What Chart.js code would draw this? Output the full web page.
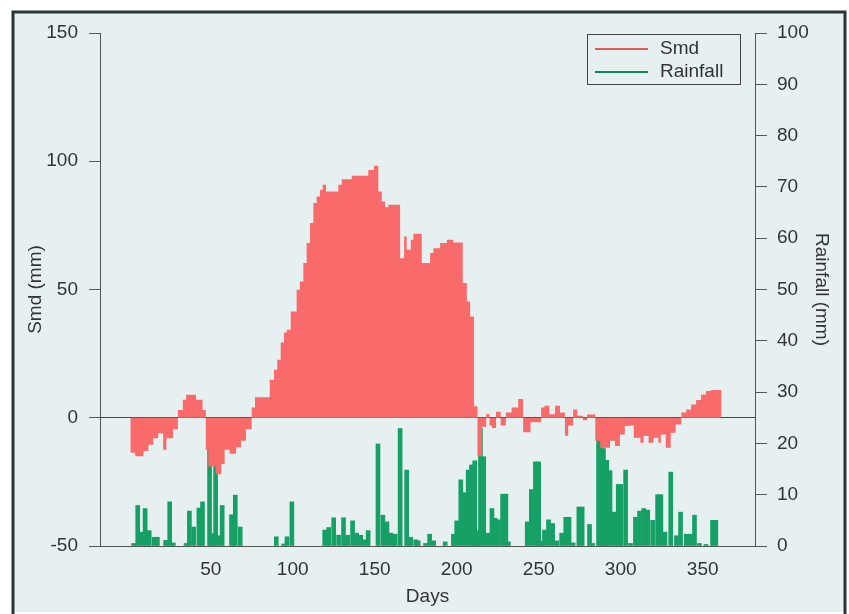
<!DOCTYPE html>
<html>
<head>
<meta charset="utf-8">
<title>Smd and Rainfall</title>
<script src="https://cdn.jsdelivr.net/npm/chart.js@4.4.0/dist/chart.umd.min.js"></script>
<style>
  body { margin: 0; background: #ffffff; }
  canvas { display: block; }
</style>
</head>
<body>
<canvas id="myChart" width="849" height="614"></canvas>
<script>
// Smd (mm): day where each step starts, and the value held until the next step
var smdDays = [1, 4, 9, 12, 15, 18, 21, 23, 27, 30, 33, 35, 41, 45, 47, 48.5, 53, 56.5, 58.5, 61.5,
    65.5, 68.5, 71.5, 75, 77, 86, 88.6, 90.6, 92.7, 94.7, 96.3, 98.8, 102.4, 104.4, 106.5, 108.5,
    110.5, 112.6, 114.6, 116.6, 118.3, 120.3, 127.8, 129.9, 136, 146.1, 149.6, 152.2, 154.3, 156.3,
    158.3, 165.5, 167.9, 169.5, 172, 173.6, 178.7, 183.8, 185.8, 189.9, 194, 198, 203.7, 206.2,
    208.2, 210.6, 212.7, 215.5, 218, 220, 221.5, 224, 226.8, 230, 233.5, 237.5, 240.5, 245, 251.5,
    253.5, 256.5, 260, 263, 266, 268, 271, 273.5, 277, 279.5, 284.5, 287.5, 293.5, 296.5, 299.5,
    302.5, 305.5, 308, 312, 314, 317, 320, 323, 324.5, 327.5, 330.5, 333.5, 337, 340, 343, 346,
    349, 352, 355, 358, 361.5];
var smdValues = [-12.5, -13.6, -15, -13, -10.5, -8, -6, -12.5, -8, -4.5, 3, 7, 9, 7, 3, -12.5, -19, -22, -18, -12.5,
    -14, -11.5, -9, -4.5, 4, 8, 14.8, 18.7, 22.6, 29.3, 33.2, 34.3, 41.4, 49.9, 53.1, 60.3,
    68.1, 75.9, 83.7, 86.3, 88.9, 90.8, 88.2, 90.8, 93, 94.3, 96.6, 98.2, 88.2, 84.3,
    82.1, 83, 62.2, 70.7, 65.5, 69.4, 71.7, 60.3, 64.2, 66.1, 68.1, 69.4, 68.3, 52.5,
    45.3, 39.5, 4.5, -15, -3.5, 1.5, -3, -4, 2.3, -3, 2, 4, 7.3, -5.7, -1.8,
    4, 4.7, 1.4, 4.7, 2, -7, -3, 3.2, 0.8, -1, 1.3, -9, -11.7, -9, -11,
    -6.5, -3.2, -3, -7.8, -9.7, -7.1, -9.7, -7.8, -9.7, -6.5, -11.7, -5.8, -2.6, 2, 3.2, 5.2,
    6.9, 9.1, 10.4, 10.8, 10.8];

// Rainfall (mm) per rain day
var rainDays = [3, 5.5, 7.8, 10, 12.5, 15.5, 17.5, 22.5, 25, 27.2, 35, 37, 39.6, 42.8, 45, 49.3, 51, 53, 55, 57,
    62.7, 65, 68, 90, 94.5, 96.5, 99.5, 119.5, 122, 125, 128, 131, 133.5, 136.5, 139, 141.5, 143.5, 146,
    152, 155, 157.5, 160, 162.5, 165.5, 169.5, 172, 175, 176.5, 181, 183.5, 186, 193, 198, 200, 202.5,
    205, 207, 209, 211, 213, 214.5, 216.5, 219, 221.5, 223.5, 225.5, 228, 230, 231.5, 243, 245.5, 248,
    250, 252, 253.5, 256, 258.5, 261, 264, 266.5, 268.5, 271, 274.5, 276.5, 281, 283, 286.5, 288,
    289.5, 291.5, 293.5, 296, 298.5, 300, 303, 306, 309, 311.5, 314, 316.5, 319.5, 322.5, 324.5, 327,
    330.5, 334, 336.5, 340, 342.5, 345, 348, 352, 356, 358];
var rainValues = [0.5, 7.9, 2.7, 7.3, 3, 1.7, 1.7, 1.1, 8.6, 0.6, 0.5, 6.8, 3.7, 7.4, 8.6, 20, 2.4, 15.6, 2, 7.9,
    6.1, 9.9, 3.7, 1.8, 0.4, 1.8, 8.6, 3.1, 3.6, 5.5, 2.1, 5.5, 2.1, 4.9, 2.5, 2.1, 1.2, 3,
    19.9, 6, 4.7, 2.5, 2.3, 22.9, 14.8, 1.7, 1.2, 1.0, 0.5, 2.3, 1.0, 0.8, 2.3, 4.9, 12.9,
    10.4, 14.8, 15.8, 16.6, 3, 22.9, 17.4, 2.5, 7.3, 5.4, 5.1, 10.1, 10.1, 0.8, 4.7, 11, 16.4,
    16.4, 1, 3.1, 5.1, 4.4, 1, 2.5, 5.6, 5.6, 0.6, 7.6, 7.6, 4.2, 0.5, 22.9, 22.9,
    19, 16.7, 14.7, 6.6, 12, 12, 14.8, 0.5, 5.6, 6.8, 7.3, 7, 5, 10, 10, 2.7,
    14.4, 2, 6.6, 2.3, 2.3, 6, 0.5, 0.3, 5, 5];

// tick labels of the day axis
var dayTicks = [50, 100, 150, 200, 250, 300, 350];

var smdColor = '#f96a6a';
var rainColor = '#16a066';
var textColor = '#333333';
var axisColor = '#555555';
var fontFamily = "'Liberation Sans', Arial, sans-serif";

var smdData = smdDays.map(function (d, i) {
    return { x: d, y: smdValues[i] };
});
var rainData = rainDays.map(function (d, i) {
    return { x: d, y: rainValues[i] };
});

// scanned page frame and background
var framePlugin = {
    id: 'frame',
    beforeDraw: function (chart) {
        var c = chart.ctx;
        c.save();
        c.fillStyle = '#ffffff';
        c.fillRect(0, 0, chart.width, chart.height);
        c.fillStyle = '#e6f0f0';
        c.fillRect(13, 12, 832, 600);
        c.strokeStyle = '#2b3535';
        c.lineWidth = 3;
        c.beginPath();
        c.moveTo(13, 614);
        c.lineTo(13, 12);
        c.lineTo(845, 12);
        c.lineTo(845, 614);
        c.stroke();
        c.restore();
    }
};

// legend box in the top right corner of the plot
var legendPlugin = {
    id: 'boxLegend',
    afterDraw: function (chart) {
        var c = chart.ctx;
        var items = chart.data.datasets;
        c.save();
        c.strokeStyle = '#444444';
        c.lineWidth = 1;
        c.strokeRect(587.5, 34.5, 153, 50);
        c.font = '19px ' + fontFamily;
        c.textBaseline = 'middle';
        c.fillStyle = textColor;
        items.forEach(function (ds, i) {
            var y = 49 + i * 23;
            c.strokeStyle = ds.legendColor;
            c.lineWidth = 2;
            c.beginPath();
            c.moveTo(595, y);
            c.lineTo(648, y);
            c.stroke();
            c.fillText(ds.label, 660, y);
        });
        c.restore();
    }
};

var ctx = document.getElementById('myChart').getContext('2d');
var myChart = new Chart(ctx, {
    type: 'bar',
    data: {
        datasets: [{
            type: 'line',
            label: 'Smd',
            data: smdData,
            xAxisID: 'x',
            yAxisID: 'y',
            stepped: 'after',
            fill: 'origin',
            backgroundColor: smdColor,
            borderWidth: 0,
            borderColor: smdColor,
            pointRadius: 0,
            legendColor: '#e85a5a',
            order: 0
        }, {
            type: 'bar',
            label: 'Rainfall',
            data: rainData,
            xAxisID: 'x',
            yAxisID: 'y2',
            backgroundColor: rainColor,
            borderWidth: 0,
            barThickness: 4,
            legendColor: '#0c8a52',
            order: 1
        }]
    },
    options: {
        responsive: false,
        animation: false,
        devicePixelRatio: 1,
        layout: {
            padding: { top: 33, left: 0, right: 0, bottom: 0 }
        },
        scales: {
            x: {
                type: 'linear',
                offset: false,
                min: -17.5,
                max: 381.9,
                afterBuildTicks: function (scale) {
                    scale.ticks = dayTicks.map(function (v) { return { value: v }; });
                },
                afterFit: function (scale) { scale.height = 68; },
                grid: { display: false, drawTicks: false, offset: false },
                border: { display: true, color: axisColor, width: 1 },
                ticks: {
                    color: textColor,
                    padding: 12,
                    maxRotation: 0,
                    autoSkip: false,
                    font: { family: fontFamily, size: 19 }
                },
                title: {
                    display: true,
                    text: 'Days',
                    color: textColor,
                    padding: { top: 0, bottom: 6 },
                    font: { family: fontFamily, size: 19 }
                }
            },
            y: {
                type: 'linear',
                position: 'left',
                min: -50,
                max: 150,
                afterFit: function (scale) { scale.width = 100; },
                ticks: {
                    stepSize: 50,
                    color: textColor,
                    padding: 11,
                    font: { family: fontFamily, size: 19 }
                },
                grid: {
                    drawOnChartArea: true,
                    tickLength: 11,
                    tickColor: axisColor,
                    color: function (c) {
                        return c.tick && c.tick.value === 0 ? '#444444' : 'transparent';
                    }
                },
                border: { display: true, color: axisColor, width: 1 },
                title: {
                    display: true,
                    text: 'Smd (mm)',
                    color: textColor,
                    padding: { top: 24, bottom: 0 },
                    font: { family: fontFamily, size: 19 }
                }
            },
            y2: {
                type: 'linear',
                position: 'right',
                min: 0,
                max: 100,
                afterFit: function (scale) { scale.width = 94; },
                ticks: {
                    stepSize: 10,
                    color: textColor,
                    padding: 10,
                    font: { family: fontFamily, size: 19 }
                },
                grid: {
                    drawOnChartArea: false,
                    tickLength: 12,
                    tickColor: axisColor
                },
                border: { display: true, color: axisColor, width: 1 },
                title: {
                    display: true,
                    text: 'Rainfall (mm)',
                    color: textColor,
                    padding: { top: 16, bottom: 0 },
                    font: { family: fontFamily, size: 19 }
                }
            }
        },
        plugins: {
            legend: { display: false },
            tooltip: { enabled: false }
        }
    },
    plugins: [framePlugin, legendPlugin]
});
</script>
</body>
</html>
